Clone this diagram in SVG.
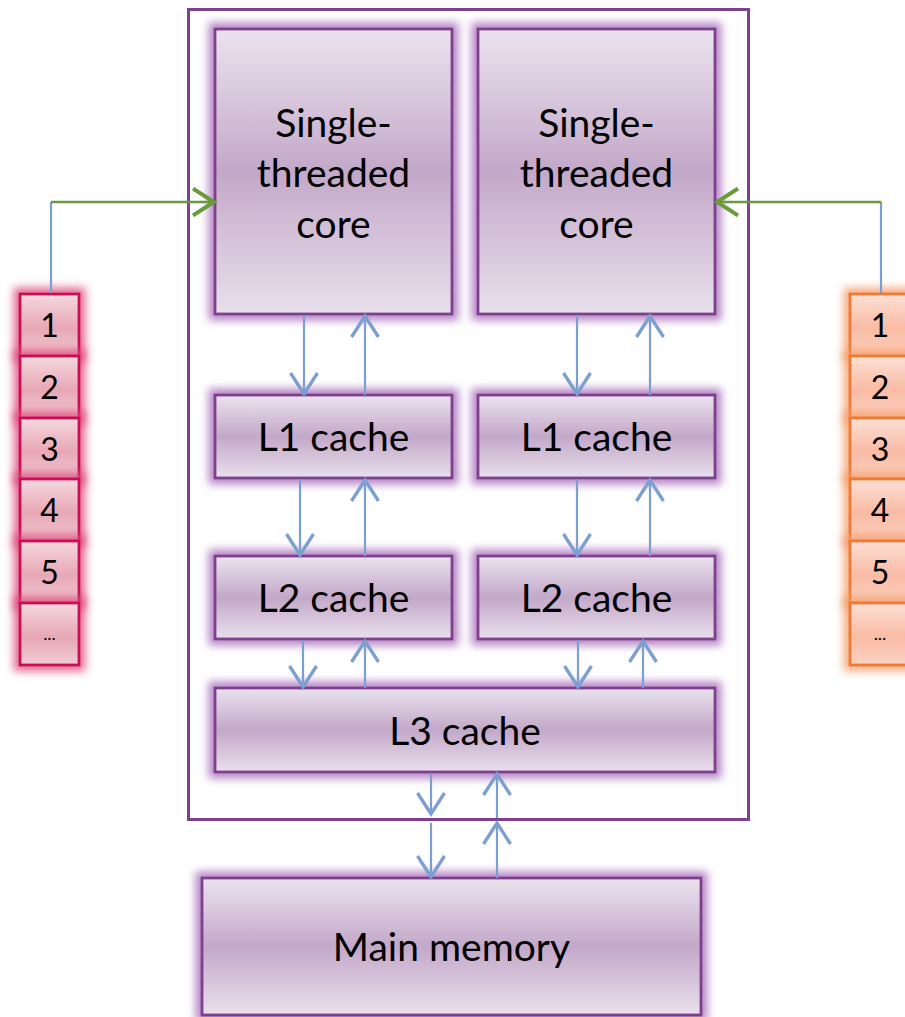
<svg xmlns="http://www.w3.org/2000/svg" width="905" height="1017" viewBox="0 0 905 1017">
  <defs>
    <linearGradient id="gPurple" x1="0" y1="0" x2="0" y2="1">
      <stop offset="0" stop-color="#ebe3ee"/>
      <stop offset="0.5" stop-color="#c3a8c9"/>
      <stop offset="1" stop-color="#e9e0ec"/>
    </linearGradient>
    <linearGradient id="gPink" x1="0" y1="0" x2="0" y2="1">
      <stop offset="0" stop-color="#f5d9e0"/>
      <stop offset="0.55" stop-color="#e8a7b5"/>
      <stop offset="1" stop-color="#f1cbd4"/>
    </linearGradient>
    <linearGradient id="gPeach" x1="0" y1="0" x2="0" y2="1">
      <stop offset="0" stop-color="#fde0d5"/>
      <stop offset="0.55" stop-color="#f9bba4"/>
      <stop offset="1" stop-color="#fcd2c2"/>
    </linearGradient>
    <filter id="glowPurple" x="-20%" y="-20%" width="140%" height="140%">
      <feMorphology in="SourceAlpha" operator="dilate" radius="5" result="d"/>
      <feGaussianBlur in="d" stdDeviation="4" result="b"/>
      <feFlood flood-color="#a970bb" flood-opacity="0.85"/>
      <feComposite in2="b" operator="in" result="g"/>
      <feMerge><feMergeNode in="g"/><feMergeNode in="SourceGraphic"/></feMerge>
    </filter>
    <filter id="glowPink" x="-40%" y="-40%" width="180%" height="180%">
      <feMorphology in="SourceAlpha" operator="dilate" radius="5" result="d"/>
      <feGaussianBlur in="d" stdDeviation="4" result="b"/>
      <feFlood flood-color="#dc4678" flood-opacity="0.8"/>
      <feComposite in2="b" operator="in" result="g"/>
      <feMerge><feMergeNode in="g"/><feMergeNode in="SourceGraphic"/></feMerge>
    </filter>
    <filter id="glowOrange" x="-40%" y="-40%" width="180%" height="180%">
      <feMorphology in="SourceAlpha" operator="dilate" radius="5" result="d"/>
      <feGaussianBlur in="d" stdDeviation="4" result="b"/>
      <feFlood flood-color="#f49a66" flood-opacity="0.8"/>
      <feComposite in2="b" operator="in" result="g"/>
      <feMerge><feMergeNode in="g"/><feMergeNode in="SourceGraphic"/></feMerge>
    </filter>
    <marker id="arrBlue" markerUnits="userSpaceOnUse" markerWidth="30" markerHeight="30" refX="16" refY="10" orient="auto" viewBox="0 0 20 20">
      <path d="M2,1 L16,10 L2,19" fill="none" stroke="#7b9fd1" stroke-width="2.2"/>
    </marker>
    <marker id="arrGreen" markerUnits="userSpaceOnUse" markerWidth="30" markerHeight="30" refX="16" refY="10" orient="auto" viewBox="0 0 20 20">
      <path d="M2,1 L16,10 L2,19" fill="none" stroke="#6b9a3b" stroke-width="2.6"/>
    </marker>
  </defs>
  <style>
    .box { fill: url(#gPurple); stroke: #7e3f8e; stroke-width: 2.8; filter: url(#glowPurple); }
    .cellL { fill: url(#gPink); stroke: #cc1157; stroke-width: 2.8; filter: url(#glowPink); }
    .cellR { fill: url(#gPeach); stroke: #f07a32; stroke-width: 2.8; filter: url(#glowOrange); }
    .lbl { font-family: Lato, "Open Sans", "Liberation Sans", sans-serif; font-size: 39px; fill: #000; text-anchor: middle; }
    .num { font-family: Lato, "Open Sans", "Liberation Sans", sans-serif; font-size: 32px; fill: #000; text-anchor: middle; }
    .dots { font-family: Lato, "Open Sans", "Liberation Sans", sans-serif; font-size: 18px; fill: #000; text-anchor: middle; }
    .blue { stroke: #7b9fd1; stroke-width: 2.2; fill: none; }
    .green { stroke: #6b9a3b; stroke-width: 2.6; fill: none; }
  </style>

  <!-- processor package -->
  <rect id="package" x="188.5" y="9.5" width="560" height="810" fill="#fff" stroke="#7e3f8e" stroke-width="3"/>

  <g id="core1">
    <rect class="box" x="215" y="29" width="237" height="285"/>
    <text class="lbl" x="333.5" y="137">Single-</text>
    <text class="lbl" x="333.5" y="187">threaded</text>
    <text class="lbl" x="333.5" y="238">core</text>
  </g>
  <g id="core2">
    <rect class="box" x="478" y="29" width="237" height="285"/>
    <text class="lbl" x="596.5" y="137">Single-</text>
    <text class="lbl" x="596.5" y="187">threaded</text>
    <text class="lbl" x="596.5" y="238">core</text>
  </g>
  <g id="l1a">
    <rect class="box" x="215" y="395" width="237" height="83"/>
    <text class="lbl" x="333.5" y="451">L1 cache</text>
  </g>
  <g id="l1b">
    <rect class="box" x="478" y="395" width="237" height="83"/>
    <text class="lbl" x="596.5" y="451">L1 cache</text>
  </g>
  <g id="l2a">
    <rect class="box" x="215" y="556" width="237" height="83"/>
    <text class="lbl" x="333.5" y="612">L2 cache</text>
  </g>
  <g id="l2b">
    <rect class="box" x="478" y="556" width="237" height="83"/>
    <text class="lbl" x="596.5" y="612">L2 cache</text>
  </g>
  <g id="l3">
    <rect class="box" x="215" y="688" width="500" height="84"/>
    <text class="lbl" x="465" y="745">L3 cache</text>
  </g>
  <g id="mainmem">
    <rect class="box" x="202" y="878" width="499" height="137"/>
    <text class="lbl" x="451.5" y="961">Main memory</text>
  </g>

  <!-- left thread queue -->
  <g id="queueLeft">
    <rect class="cellL" x="20" y="294" width="59" height="62"/>
    <rect class="cellL" x="20" y="356" width="59" height="62"/>
    <rect class="cellL" x="20" y="418" width="59" height="61"/>
    <rect class="cellL" x="20" y="479" width="59" height="62"/>
    <rect class="cellL" x="20" y="541" width="59" height="62"/>
    <rect class="cellL" x="20" y="603" width="59" height="62"/>
    <text class="num" x="49.5" y="337">1</text>
    <text class="num" x="49.5" y="399">2</text>
    <text class="num" x="49.5" y="461">3</text>
    <text class="num" x="49.5" y="522">4</text>
    <text class="num" x="49.5" y="584">5</text>
    <text class="dots" x="49.5" y="640">...</text>
  </g>

  <!-- right thread queue -->
  <g id="queueRight">
    <rect class="cellR" x="850" y="294" width="62" height="62"/>
    <rect class="cellR" x="850" y="356" width="62" height="62"/>
    <rect class="cellR" x="850" y="418" width="62" height="61"/>
    <rect class="cellR" x="850" y="479" width="62" height="62"/>
    <rect class="cellR" x="850" y="541" width="62" height="62"/>
    <rect class="cellR" x="850" y="603" width="62" height="62"/>
    <text class="num" x="880" y="337">1</text>
    <text class="num" x="880" y="399">2</text>
    <text class="num" x="880" y="461">3</text>
    <text class="num" x="880" y="522">4</text>
    <text class="num" x="880" y="584">5</text>
    <text class="dots" x="880" y="640">...</text>
  </g>

  <g id="connectors">
    <!-- queues feeding cores -->
    <line class="blue" x1="51" y1="293" x2="51" y2="202"/>
    <line class="green" x1="51" y1="202" x2="214" y2="202" marker-end="url(#arrGreen)"/>
    <line class="blue" x1="881" y1="293" x2="881" y2="202"/>
    <line class="green" x1="881" y1="202" x2="717" y2="202" marker-end="url(#arrGreen)"/>

    <!-- core <-> L1 -->
    <line class="blue" x1="304" y1="315" x2="304" y2="394" marker-end="url(#arrBlue)"/>
    <line class="blue" x1="365" y1="395" x2="365" y2="316" marker-end="url(#arrBlue)"/>
    <line class="blue" x1="577" y1="315" x2="577" y2="394" marker-end="url(#arrBlue)"/>
    <line class="blue" x1="650" y1="395" x2="650" y2="316" marker-end="url(#arrBlue)"/>

    <!-- L1 <-> L2 -->
    <line class="blue" x1="300" y1="479" x2="300" y2="555" marker-end="url(#arrBlue)"/>
    <line class="blue" x1="365" y1="556" x2="365" y2="480" marker-end="url(#arrBlue)"/>
    <line class="blue" x1="577" y1="479" x2="577" y2="555" marker-end="url(#arrBlue)"/>
    <line class="blue" x1="650" y1="556" x2="650" y2="480" marker-end="url(#arrBlue)"/>

    <!-- L2 <-> L3 -->
    <line class="blue" x1="303" y1="640" x2="303" y2="687" marker-end="url(#arrBlue)"/>
    <line class="blue" x1="365" y1="688" x2="365" y2="641" marker-end="url(#arrBlue)"/>
    <line class="blue" x1="578" y1="640" x2="578" y2="687" marker-end="url(#arrBlue)"/>
    <line class="blue" x1="643" y1="688" x2="643" y2="641" marker-end="url(#arrBlue)"/>

    <!-- L3 <-> package edge -->
    <line class="blue" x1="431" y1="773" x2="431" y2="814" marker-end="url(#arrBlue)"/>
    <line class="blue" x1="497" y1="818" x2="497" y2="774" marker-end="url(#arrBlue)"/>

    <!-- package edge <-> main memory -->
    <line class="blue" x1="431" y1="823" x2="431" y2="877" marker-end="url(#arrBlue)"/>
    <line class="blue" x1="497" y1="878" x2="497" y2="823" marker-end="url(#arrBlue)"/>
  </g>
</svg>
